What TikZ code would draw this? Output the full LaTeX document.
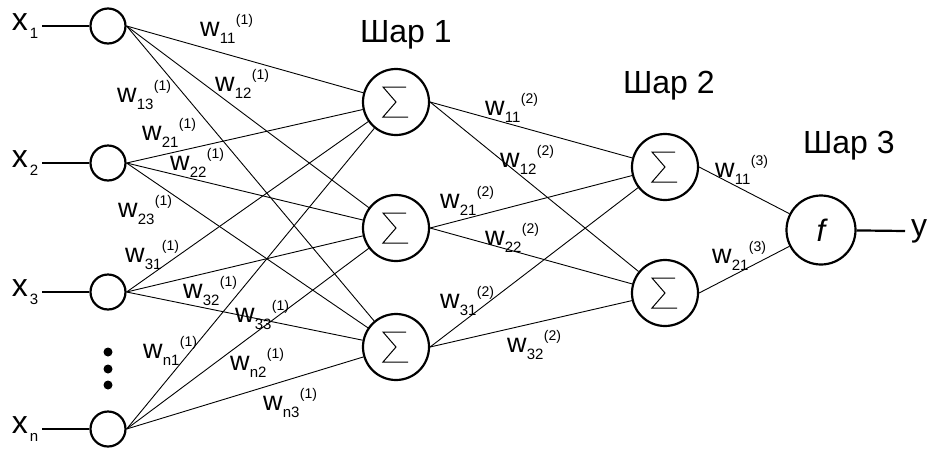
\documentclass[tikz,border=0pt]{standalone}
\usepackage{fontspec}
\setmainfont{Liberation Sans}
\newcommand\wtxt[2]{{\fontsize{27}{27}\selectfont w}\kern0.3pt\raisebox{-7pt}{\fontsize{15}{15}\selectfont #1}\kern0.5pt\raisebox{12pt}{\fontsize{14}{14}\selectfont (#2)}}
\newcommand\xtxt[1]{{\fontsize{32}{32}\selectfont x}\kern2pt\raisebox{-8pt}{\fontsize{15}{15}\selectfont #1}}
\begin{document}
\begin{tikzpicture}[x=1pt,y=-1pt]
\tikzset{
  inode/.style={circle, draw, line width=2.2pt, minimum size=35pt, inner sep=0pt},
  snode/.style={circle, draw, line width=2.2pt, minimum size=66pt, inner sep=0pt,
    path picture={\draw[line width=1pt, line join=miter]
      ([shift={(10,-15)}]path picture bounding box.center) -- ++(-23,0) -- ++(13,15) -- ++(-13,15) -- ++(25,0);}},
  fnode/.style={circle, draw, line width=2.2pt, minimum size=69pt, inner sep=0pt, font=\fontsize{31}{31}\selectfont\itshape},
  wire/.style={line width=0.9pt},
  iowire/.style={line width=2.2pt},
  lbl/.style={anchor=base west, inner sep=0pt, outer sep=0pt},
  title/.style={anchor=base west, inner sep=0pt, outer sep=0pt, font=\fontsize{32}{32}\selectfont},
  dot/.style={circle, fill, minimum size=9pt, inner sep=0pt}
}
\useasboundingbox (0,0) rectangle (930,448);

% input nodes
\node[inode] (in1) at (108,26) {};
\node[inode] (in2) at (108,163) {};
\node[inode] (in3) at (108,292) {};
\node[inode] (inn) at (108,429) {};
\node[dot] (d1) at (108,352) {};
\node[dot] (d2) at (108,369) {};
\node[dot] (d3) at (108,385) {};

% input labels and lines
\node[lbl] (x1) at (12,30) {\xtxt{1}};
\node[lbl] (x2) at (12,167) {\xtxt{2}};
\node[lbl] (x3) at (12,296) {\xtxt{3}};
\node[lbl] (xn) at (12,433) {\xtxt{n}};
\coordinate (l1) at (42,26);
\coordinate (l2) at (42,163);
\coordinate (l3) at (42,292);
\coordinate (ln) at (42,429);
\draw[iowire] (l1) -- (in1);
\draw[iowire] (l2) -- (in2);
\draw[iowire] (l3) -- (in3);
\draw[iowire] (ln) -- (inn);

% layer 1
\node[snode] (s1) at (396,102) {};
\node[snode] (s2) at (396,228) {};
\node[snode] (s3) at (396,347) {};
% layer 2
\node[snode] (t1) at (665,167) {};
\node[snode] (t2) at (665,293) {};
% layer 3
\node[fnode] (f) at (821,230) {f};
\coordinate (yo) at (905,231);
\draw[iowire] (f) -- (yo);
\node[lbl, font=\fontsize{32}{32}\selectfont] (y) at (911,236) {y};

% titles
\node[title] (sh1) at (360,42) {Шар 1};
\node[title] (sh2) at (623,93) {Шар 2};
\node[title] (sh3) at (803,153) {Шар 3};

% connections
\foreach \i in {in1,in2,in3,inn}{
  \foreach \j in {s1,s2,s3}{
    \draw[wire] (\i.east) -- (\j);
  }
}
\foreach \i in {s1,s2,s3}{
  \foreach \j in {t1,t2}{
    \draw[wire] (\i.east) -- (\j);
  }
}
\draw[wire] (t1.east) -- (f);
\draw[wire] (t2.east) -- (f);

% weight labels layer 1
\node[lbl] (w111) at (200,36) {\wtxt{11}{1}};
\node[lbl] (w112) at (215,91) {\wtxt{12}{1}};
\node[lbl] (w113) at (117,102) {\wtxt{13}{1}};
\node[lbl] (w121) at (142,140) {\wtxt{21}{1}};
\node[lbl] (w122) at (170,170) {\wtxt{22}{1}};
\node[lbl] (w123) at (118,217) {\wtxt{23}{1}};
\node[lbl] (w131) at (125,262) {\wtxt{31}{1}};
\node[lbl] (w132) at (183,298) {\wtxt{32}{1}};
\node[lbl] (w133) at (235,322) {\wtxt{33}{1}};
\node[lbl] (w1n1) at (143,358) {\wtxt{n1}{1}};
\node[lbl] (w1n2) at (230,370) {\wtxt{n2}{1}};
\node[lbl] (w1n3) at (263,410) {\wtxt{n3}{1}};
% layer 2
\node[lbl] (w211) at (485,115) {\wtxt{11}{2}};
\node[lbl] (w212) at (500,167) {\wtxt{12}{2}};
\node[lbl] (w221) at (440,208) {\wtxt{21}{2}};
\node[lbl] (w222) at (485,245) {\wtxt{22}{2}};
\node[lbl] (w231) at (440,308) {\wtxt{31}{2}};
\node[lbl] (w232) at (507,352) {\wtxt{32}{2}};
% layer 3
\node[lbl] (w311) at (715,177) {\wtxt{11}{3}};
\node[lbl] (w321) at (712,263) {\wtxt{21}{3}};
\end{tikzpicture}
\end{document}
